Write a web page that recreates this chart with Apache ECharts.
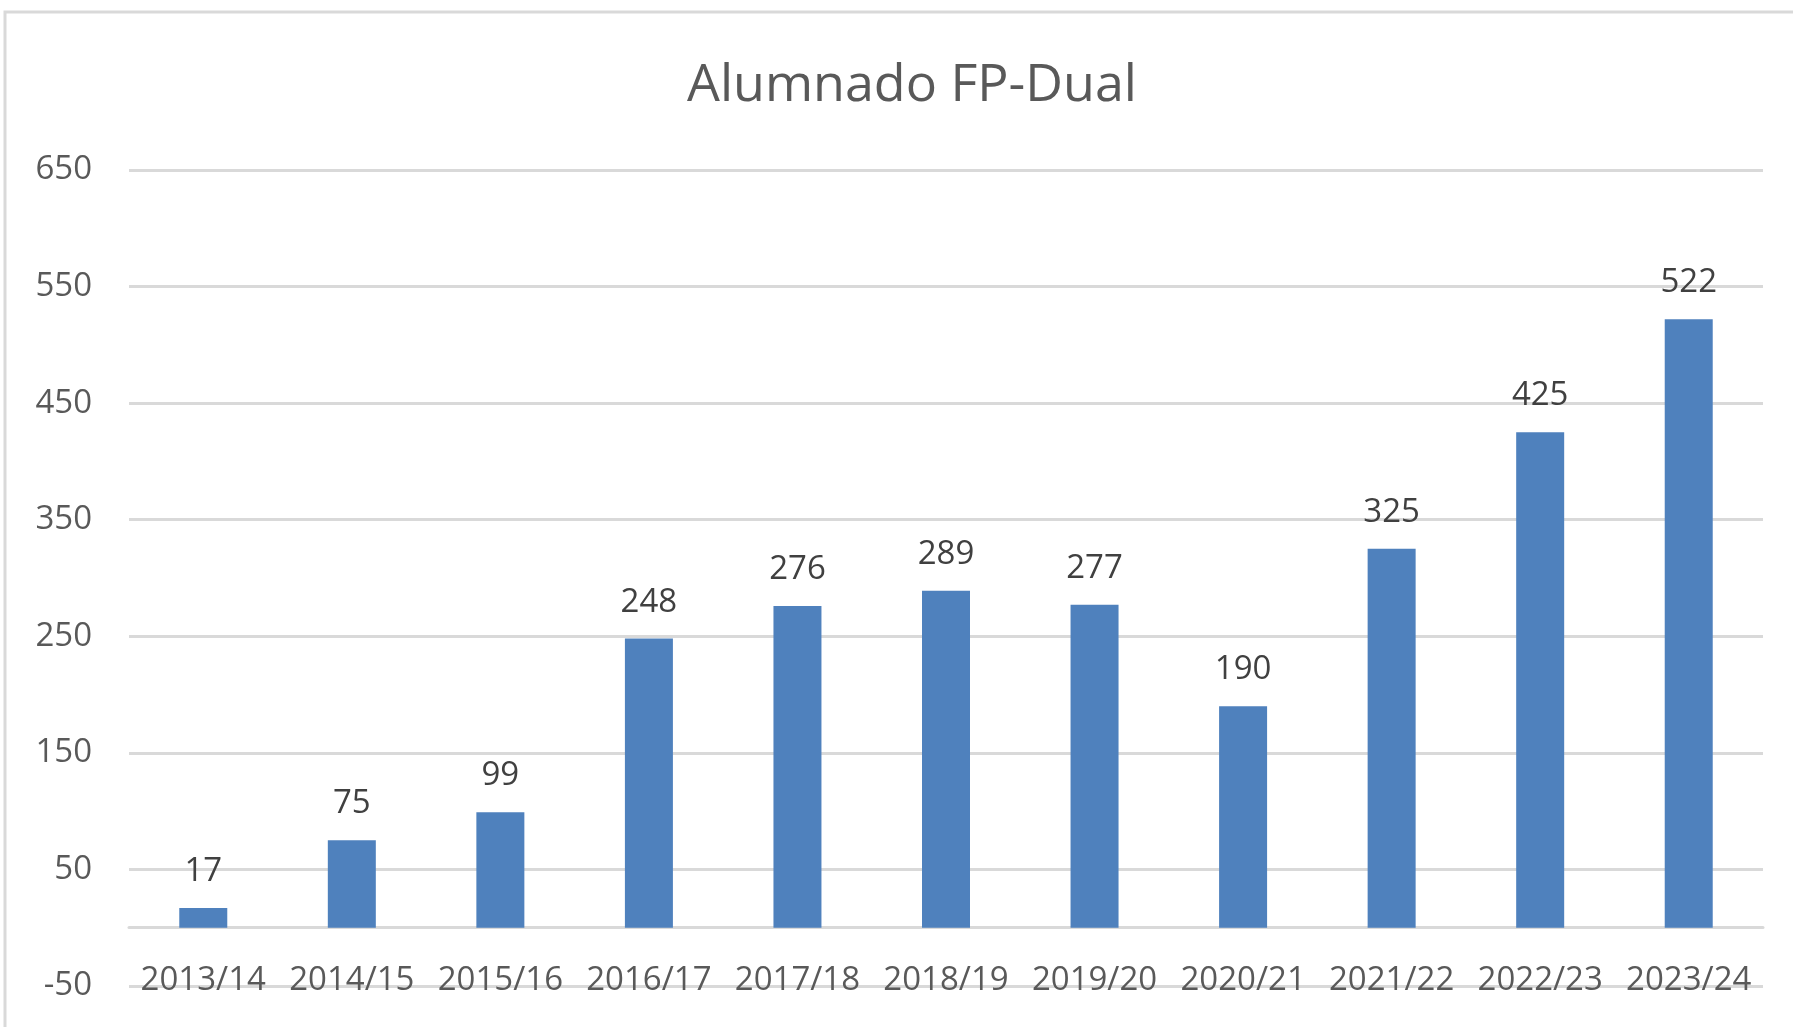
<!DOCTYPE html>
<html>
<head>
<meta charset="utf-8">
<title>Alumnado FP-Dual</title>
<script src="https://cdn.jsdelivr.net/npm/echarts@6/dist/echarts.min.js"></script>
<style>
  html, body { margin: 0; padding: 0; background: #fff; }
  #chart { width: 1793px; height: 1027px; }
</style>
</head>
<body>
<div id="chart"></div>
<script>
// cursos y número de alumnos
const cursos = ['2013/14', '2014/15', '2015/16', '2016/17', '2017/18', '2018/19',
  '2019/20', '2020/21', '2021/22', '2022/23', '2023/24'];
const alumnos = [17, 75, 99, 248, 276, 289, 277, 190, 325, 425, 522];

const textColor = '#595959';
const gridColor = '#d9d9d9';
const fontFamily = '"Open Sans", sans-serif';

const chart = echarts.init(document.getElementById('chart'));

const option = {
  animation: false,
  backgroundColor: '#fff',
  // marco gris del gráfico
  graphic: [{
    type: 'rect',
    shape: { x: 5, y: 12, width: 1900, height: 1100 },
    style: { fill: 'none', stroke: gridColor, lineWidth: 3 },
    silent: true
  }],
  title: {
    text: 'Alumnado FP-Dual',
    left: 907,
    textAlign: 'center',
    top: 55,
    textStyle: {
      fontFamily: fontFamily,
      fontSize: 52,
      fontWeight: 'normal',
      color: textColor
    }
  },
  grid: {
    left: 129,
    right: 30,
    top: 170,
    bottom: 41,
    outerBoundsMode: 'none',
    containLabel: false
  },
  xAxis: {
    type: 'category',
    data: cursos,
    axisLine: { onZero: true, lineStyle: { color: gridColor, width: 3 } },
    axisTick: { show: false },
    axisLabel: {
      // las etiquetas quedan sobre la línea de -50, como en Excel
      margin: -22,
      interval: 0,
      fontFamily: fontFamily,
      fontSize: 33,
      color: textColor
    },
    splitLine: { show: false }
  },
  yAxis: {
    type: 'value',
    min: -50,
    max: 650,
    interval: 100,
    axisLine: { show: false },
    axisTick: { show: false },
    axisLabel: {
      margin: 37,
      fontFamily: fontFamily,
      fontSize: 33,
      color: textColor
    },
    splitLine: { lineStyle: { color: gridColor, width: 3 } }
  },
  series: [{
    type: 'bar',
    data: alumnos,
    barWidth: 48,
    itemStyle: { color: '#4f81bd' },
    label: {
      show: true,
      position: 'top',
      distance: 20,
      fontFamily: fontFamily,
      fontSize: 33,
      color: '#404040'
    }
  }]
};

chart.setOption(option);
</script>
</body>
</html>
